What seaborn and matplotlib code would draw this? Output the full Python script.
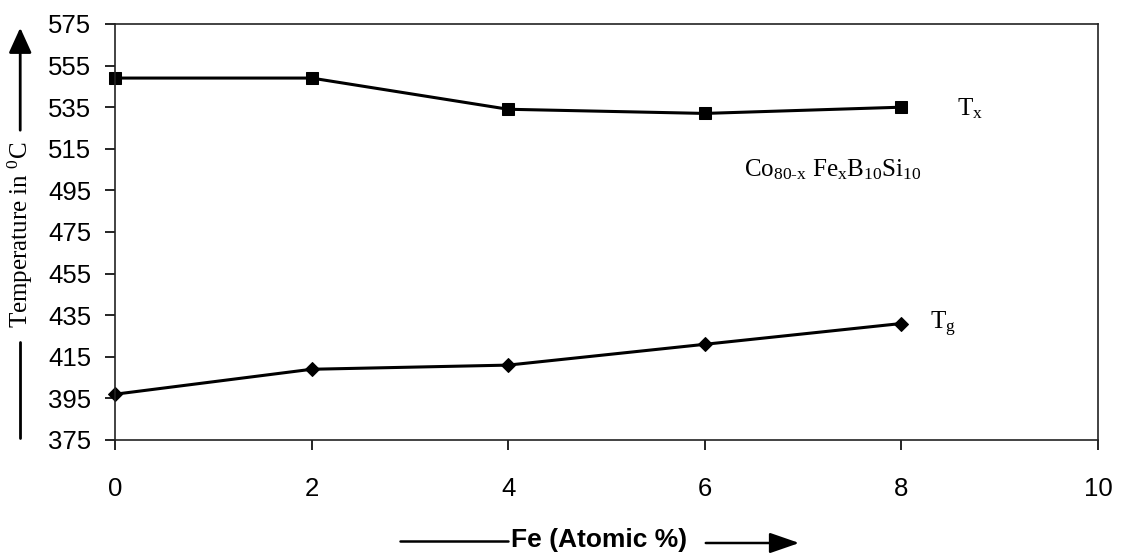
"""Crystallisation and glass transition temperature vs Fe content."""

import matplotlib

matplotlib.use("Agg")

import matplotlib.pyplot as plt
import pandas as pd
import seaborn as sns
from matplotlib.lines import Line2D
from matplotlib.patches import FancyArrowPatch

FE_CONTENT = [0, 2, 4, 6, 8]
T_CRYST = [549, 549, 534, 532, 535]
T_GLASS = [397, 409, 411, 421, 431]
X_TICKS = [0, 2, 4, 6, 8, 10]
Y_TICKS = list(range(375, 576, 20))

sns.set_theme(style="white")
plt.rcParams["font.family"] = ["Liberation Sans", "DejaVu Sans"]
plt.rcParams["text.color"] = "black"
plt.rcParams["mathtext.fontset"] = "custom"
plt.rcParams["mathtext.rm"] = "Liberation Serif"
plt.rcParams["mathtext.it"] = "Liberation Serif:italic"

data = pd.DataFrame({"fe": FE_CONTENT, "tx": T_CRYST, "tg": T_GLASS})

fig = plt.figure(figsize=(11.23, 5.59), dpi=100)
ax = fig.add_axes([0.1024, 0.2129, 0.8753, 0.7442])

sns.lineplot(data=data, x="fe", y="tx", color="black", linewidth=2.2,
             marker="s", markersize=9, markeredgecolor="black", clip_on=False, ax=ax)
sns.lineplot(data=data, x="fe", y="tg", color="black", linewidth=2.2,
             marker="D", markersize=7, markeredgecolor="black", clip_on=False, ax=ax)

ax.set_xlim(0, 10)
ax.set_ylim(375, 575)
ax.set_xticks(X_TICKS)
ax.set_yticks(Y_TICKS)
ax.tick_params(axis="both", direction="out", length=7, width=1.2, colors="black",
               labelsize=18.5, bottom=True, left=True)
ax.tick_params(axis="y", pad=10)
ax.tick_params(axis="x", pad=20)
ax.set_xlabel("")
ax.set_ylabel("")
for spine in ax.spines.values():
    spine.set_visible(True)
    spine.set_color("#222222")
    spine.set_linewidth(1.2)

serif = ["Liberation Serif", "DejaVu Serif"]
ax.text(8.7, 534.5, r"T$_{\mathrm{x}}$", fontsize=18, family=serif,
        ha="center", va="center")
ax.text(8.42, 430.5, r"T$_{\mathrm{g}}$", fontsize=18, family=serif,
        ha="center", va="center")
ax.text(7.3, 505, r"Co$_{\mathrm{80\text{-}x}}$ Fe$_{\mathrm{x}}$B$_{\mathrm{10}}$Si$_{\mathrm{10}}$",
        fontsize=18, family=serif, ha="center", va="center")

# y label with its leading line and upward arrow
fig.text(0.018, 0.58, r"Temperature in $^{0}$C", rotation=90, family=serif,
         fontsize=18, ha="center", va="center")
fig.add_artist(Line2D([0.018, 0.018], [1 - 438 / 559, 1 - 342 / 559],
                      color="black", linewidth=2.0))
fig.add_artist(FancyArrowPatch(
    (0.018, 1 - 133 / 559), (0.018, 1 - 25 / 559), transform=fig.transFigure,
    arrowstyle="-|>,head_length=1.1,head_width=0.5", mutation_scale=14,
    color="black", linewidth=2.0))

# x label with its leading line and right arrow
fig.text(0.5335, 1 - 540 / 559, "Fe (Atomic %)", fontsize=19, fontweight="bold",
         ha="center", va="center")
fig.add_artist(Line2D([400 / 1123, 508 / 1123], [1 - 541 / 559, 1 - 541 / 559],
                      color="black", linewidth=1.8))
fig.add_artist(FancyArrowPatch(
    (703 / 1123, 1 - 543 / 559), (802 / 1123, 1 - 543 / 559),
    transform=fig.transFigure,
    arrowstyle="-|>,head_length=1.3,head_width=0.45", mutation_scale=14,
    color="black", linewidth=1.8))

fig.savefig("out.png", dpi=100)
